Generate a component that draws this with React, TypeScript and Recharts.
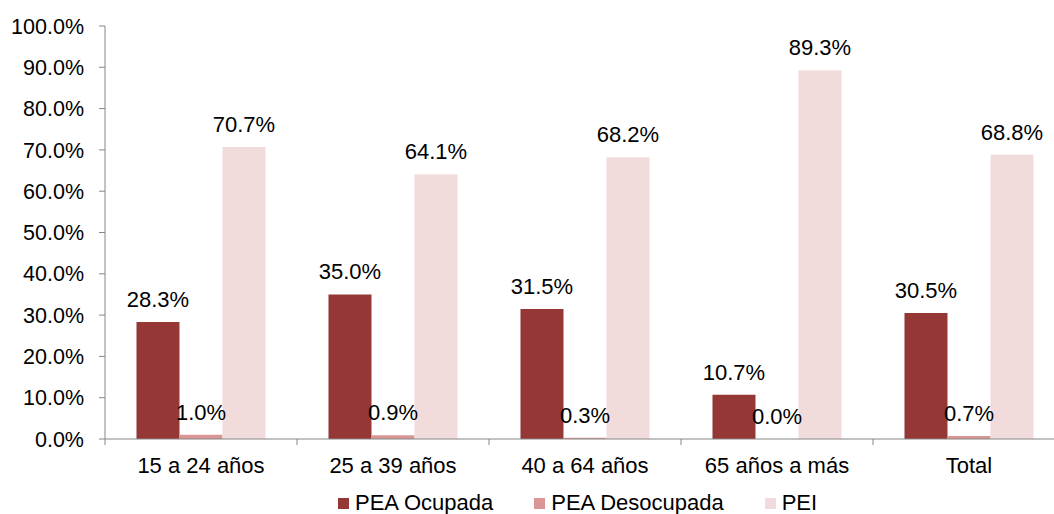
import { Bar, BarChart, LabelList, Legend, XAxis, YAxis } from "recharts";

const categories = ["15 a 24 años", "25 a 39 años", "40 a 64 años", "65 años a más", "Total"];
const peaOcupada = [28.3, 35.0, 31.5, 10.7, 30.5];
const peaDesocupada = [1.0, 0.9, 0.3, 0.0, 0.7];
const pei = [70.7, 64.1, 68.2, 89.3, 68.8];
const yTicks = [0, 10, 20, 30, 40, 50, 60, 70, 80, 90, 100];

const series = [
  { key: "ocupada", name: "PEA Ocupada", color: "#953735" },
  { key: "desocupada", name: "PEA Desocupada", color: "#D99694" },
  { key: "pei", name: "PEI", color: "#F2DCDB" }
];

const data = categories.map((cat, i) => ({
  cat,
  ocupada: peaOcupada[i],
  desocupada: peaDesocupada[i],
  pei: pei[i]
}));

const font = "'Liberation Sans', Arial, sans-serif";
const pct = (v: any) => `${Number(v).toFixed(1)}%`;

function CategoryTick(props: any) {
  const { x, y, payload, index, visibleTicksCount } = props;
  const half = payload && typeof payload.offset === "number" && payload.offset > 0 ? payload.offset : 96;
  const last = index === visibleTicksCount - 1;
  return (
    <g>
      <line x1={x - half} x2={x - half} y1={y} y2={y + 6} stroke="#868686" />
      {last && <line x1={x + half} x2={x + half} y1={y} y2={y + 6} stroke="#868686" />}
      <text x={x} y={y + 34} textAnchor="middle" fontSize={22} fontFamily={font} fill="#000">
        {payload.value}
      </text>
    </g>
  );
}

function LegendContent() {
  return (
    <div style={{ display: "flex", alignItems: "center", fontFamily: font, fontSize: 22, color: "#000", whiteSpace: "nowrap" }}>
      {series.map((s, i) => (
        <div key={s.key} style={{ display: "flex", alignItems: "center", marginRight: i < series.length - 1 ? 41 : 0 }}>
          <span style={{ display: "inline-block", width: 11, height: 11, background: s.color, marginRight: 6 }} />
          <span>{s.name}</span>
        </div>
      ))}
    </div>
  );
}

export default function App() {
  return (
    <div style={{ position: "absolute", left: 0, top: 0, width: 1054, height: 514, overflow: "hidden", background: "#fff" }}>
      <BarChart
        width={1070}
        height={514}
        data={data}
        margin={{ top: 26, right: 5, bottom: 0, left: 0 }}
        barCategoryGap="16.4%"
        barGap={0}
      >
        <XAxis
          dataKey="cat"
          height={75}
          stroke="#868686"
          tickSize={0}
          tickMargin={0}
          tickLine={false}
          interval={0}
          tick={<CategoryTick />}
        />
        <YAxis
          width={105}
          domain={[0, 100]}
          ticks={yTicks}
          tickFormatter={pct}
          stroke="#868686"
          tickSize={6}
          tickMargin={15}
          tick={{ fill: "#000", fontSize: 21.5, fontFamily: font }}
        />
        <Legend
          layout="horizontal"
          verticalAlign="middle"
          align="center"
          content={<LegendContent />}
          wrapperStyle={{ left: 338, top: 490, width: "auto", height: "auto" }}
        />
        {series.map((s) => (
          <Bar
            key={s.key}
            dataKey={s.key}
            name={s.name}
            fill={s.color}
            minPointSize={0.01}
            isAnimationActive={false}
          >
            <LabelList
              dataKey={s.key}
              position="top"
              offset={15}
              formatter={pct}
              style={{ fill: "#000", fontSize: 22, fontFamily: font }}
            />
          </Bar>
        ))}
      </BarChart>
    </div>
  );
}
